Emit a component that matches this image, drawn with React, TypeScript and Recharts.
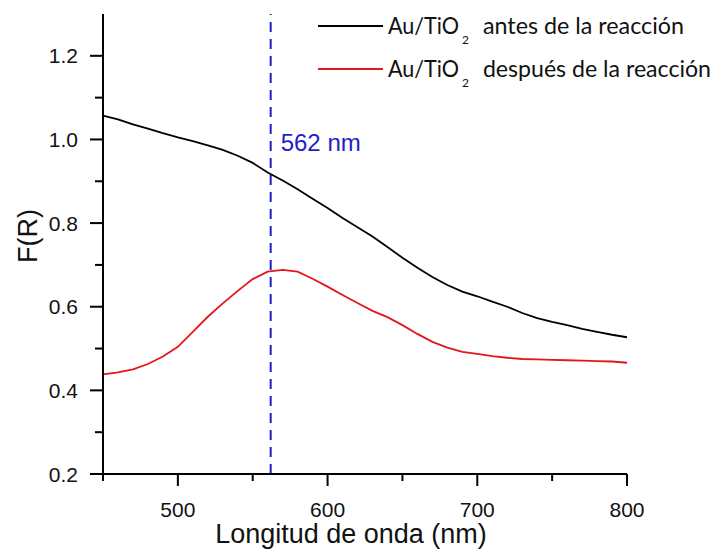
import React from 'react';
import { LineChart, Line, XAxis, YAxis, ReferenceLine } from 'recharts';

// wavelength (nm)
const wavelengths = [
  450, 460, 470, 480, 490, 500, 510, 520, 530, 540, 550, 560, 570, 580, 590, 600, 610, 620,
  630, 640, 650, 660, 670, 680, 690, 700, 710, 720, 730, 740, 750, 760, 770, 780, 790, 800,
];

// F(R) before reaction
const antes = [
  1.057, 1.048, 1.036, 1.026, 1.015, 1.005, 0.996, 0.986, 0.975, 0.961, 0.944, 0.921, 0.902, 0.881, 0.858, 0.836, 0.812, 0.79,
  0.768, 0.743, 0.717, 0.693, 0.671, 0.652, 0.636, 0.625, 0.612, 0.6, 0.585, 0.573, 0.564, 0.556, 0.547, 0.54, 0.533, 0.527,
];

// F(R) after reaction
const despues = [
  0.438, 0.443, 0.45, 0.463, 0.481, 0.504, 0.54, 0.576, 0.608, 0.638, 0.666, 0.684, 0.688, 0.684, 0.667, 0.648, 0.628, 0.609,
  0.59, 0.575, 0.556, 0.535, 0.516, 0.502, 0.492, 0.487, 0.482, 0.478, 0.475, 0.474, 0.473, 0.472, 0.471, 0.47, 0.469, 0.466,
];

const xTicks = [450, 500, 550, 600, 650, 700, 750, 800];
const xLabelTicks = [500, 600, 700, 800];
const yTicks = [0.2, 0.3, 0.4, 0.5, 0.6, 0.7, 0.8, 0.9, 1.0, 1.1, 1.2];
const yLabelTicks = [0.2, 0.4, 0.6, 0.8, 1.0, 1.2];

const peak = 562;

const series = [
  { key: 'antes', pre: 'Au/TiO', sub: '2', post: ' antes de la reacción', color: '#000000', len: 207 },
  { key: 'despues', pre: 'Au/TiO', sub: '2', post: ' después de la reacción', color: '#e3161c', len: 234 },
];

const data = wavelengths.map((w, i) => ({ w, antes: antes[i], despues: despues[i] }));

const AXIS_FONT = '"Liberation Sans", Arial, sans-serif';

const XTick = (props: any) => {
  const { x, y, payload } = props;
  const major = xLabelTicks.includes(payload.value);
  return (
    <g>
      <line x1={x} x2={x} y1={y} y2={y + (major ? 12 : 7)} stroke="#000" strokeWidth={2} />
      {major && (
        <text x={x} y={y + 43} textAnchor="middle" fontSize={21} fontFamily={AXIS_FONT} fill="#111">
          {payload.value}
        </text>
      )}
    </g>
  );
};

const YTick = (props: any) => {
  const { x, y, payload } = props;
  const major = yLabelTicks.some((t) => Math.abs(t - payload.value) < 1e-6);
  return (
    <g>
      <line x1={x - (major ? 13 : 8)} x2={x} y1={y} y2={y} stroke="#000" strokeWidth={2} />
      {major && (
        <text x={x - 25} y={y + 7.5} textAnchor="end" fontSize={21} fontFamily={AXIS_FONT} fill="#111">
          {payload.value.toFixed(1)}
        </text>
      )}
    </g>
  );
};

const ChartLegend = () => (
  <svg width={715} height={100} style={{ position: 'absolute', left: 0, top: 0, pointerEvents: 'none' }}>
    {series.map((s, i) => {
      const base = 34 + i * 43;
      return (
        <g key={s.key} fontFamily="Lato, 'Open Sans', sans-serif" fill="#111">
          <line x1={318} x2={383} y1={base - 8} y2={base - 8} stroke={s.color} strokeWidth={2} />
          <text x={388} y={base} fontSize={23}>
            <tspan textLength={71} lengthAdjust="spacingAndGlyphs">{s.pre}</tspan>
            <tspan x={462} dy={10} fontSize={12}>{s.sub}</tspan>
            <tspan x={477} dy={-10} textLength={s.len} lengthAdjust="spacingAndGlyphs">{s.post}</tspan>
          </text>
        </g>
      );
    })}
  </svg>
);

export default function App() {
  return (
    <div style={{ position: 'relative', width: 715, height: 550, background: '#fff' }}>
      <style>{'body{margin:0}'}</style>
      <LineChart width={715} height={550} data={data} margin={{ top: 14, right: 88, left: 43, bottom: 0 }}>
        <XAxis
          dataKey="w"
          type="number"
          domain={[450, 800]}
          ticks={xTicks}
          interval={0}
          tickSize={0}
          tickMargin={0}
          tickLine={false}
          tick={<XTick />}
          height={76}
          axisLine={{ stroke: '#000', strokeWidth: 2 }}
          label={(p: any) => (
            <text x={351} y={543} textAnchor="middle" fontSize={27} fontFamily={AXIS_FONT} fill="#111">
              Longitud de onda (nm)
            </text>
          )}
        />
        <YAxis
          type="number"
          domain={[0.2, 1.3]}
          ticks={yTicks}
          interval={0}
          tickSize={0}
          tickMargin={0}
          tickLine={false}
          tick={<YTick />}
          width={60}
          axisLine={{ stroke: '#000', strokeWidth: 2 }}
          label={(p: any) => (
            <text
              x={37}
              y={236}
              transform="rotate(-90 37 236)"
              textAnchor="middle"
              fontSize={27}
              fontFamily={AXIS_FONT}
              fill="#111"
            >
              F(R)
            </text>
          )}
        />
        <ReferenceLine
          x={peak}
          stroke="#1f1fc8"
          strokeWidth={2}
          strokeDasharray="10 7"
          label={(p: any) => (
            <text x={p.viewBox.x + 10} y={151} fontSize={24} fontFamily={AXIS_FONT} fill="#1f1fc8">
              {peak} nm
            </text>
          )}
        />
        {series.map((s) => (
          <Line
            key={s.key}
            dataKey={s.key}
            type="linear"
            stroke={s.color}
            strokeWidth={1.8}
            dot={false}
            isAnimationActive={false}
          />
        ))}
      </LineChart>
      <ChartLegend />
    </div>
  );
}
